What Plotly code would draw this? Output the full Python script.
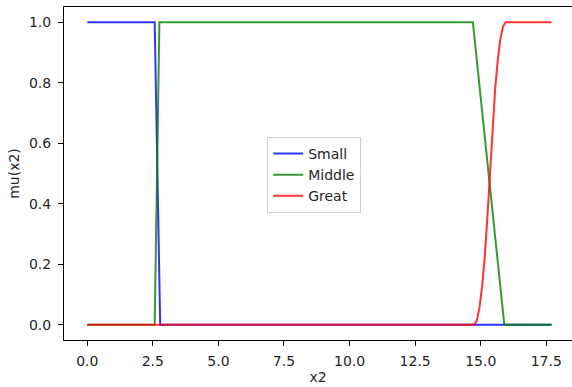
import plotly.graph_objects as go

# Data
small_x = [0.0, 2.57, 2.78, 17.7]
small_y = [1.0, 1.0, 0.0, 0.0]

middle_x = [0.0, 2.57, 2.75, 14.7, 15.9, 17.7]
middle_y = [0.0, 0.0, 1.0, 1.0, 0.0, 0.0]

great_x = [0.0, 14.75, 14.85, 14.95, 15.05, 15.15, 15.25, 15.35, 15.45, 15.55,
           15.65, 15.75, 15.85, 15.95, 17.7]
great_y = [0.0, 0.0, 0.014, 0.056, 0.125, 0.22, 0.35, 0.5, 0.65, 0.78,
           0.875, 0.945, 0.986, 1.0, 1.0]

x_ticks = [0, 2.5, 5, 7.5, 10, 12.5, 15, 17.5]
x_tick_labels = ["0.0", "2.5", "5.0", "7.5", "10.0", "12.5", "15.0", "17.5"]
y_ticks = [0, 0.2, 0.4, 0.6, 0.8, 1.0]
y_tick_labels = ["0.0", "0.2", "0.4", "0.6", "0.8", "1.0"]

font = dict(family="DejaVu Sans", size=14, color="#262626")

fig = go.Figure()
fig.add_trace(go.Scatter(x=small_x, y=small_y, mode="lines", name="Small",
                         line=dict(color="rgba(0,0,255,0.8)", width=2)))
fig.add_trace(go.Scatter(x=middle_x, y=middle_y, mode="lines", name="Middle",
                         line=dict(color="rgba(0,128,0,0.8)", width=2)))
fig.add_trace(go.Scatter(x=great_x, y=great_y, mode="lines", name="Great",
                         line=dict(color="rgba(255,0,0,0.8)", width=2)))

fig.update_layout(
    width=572, height=387,
    margin=dict(l=64, r=0, t=7, b=47, autoexpand=False),
    paper_bgcolor="white", plot_bgcolor="white",
    font=font,
    showlegend=True,
    legend=dict(x=0.40, y=0.61, xanchor="left", yanchor="top",
                bgcolor="rgba(255,255,255,0.8)", bordercolor="#d0d0d0", borderwidth=1,
                font=font, itemwidth=30, tracegroupgap=0),
    xaxis=dict(range=[-0.887, 18.48], tickvals=x_ticks, ticktext=x_tick_labels,
               showgrid=False, zeroline=False, showline=True, linecolor="black",
               linewidth=1, mirror=True, ticks="outside", ticklen=5, tickcolor="black",
               ticklabelstandoff=3,
               title=dict(text="x2", font=font, standoff=4)),
    yaxis=dict(range=[-0.05, 1.05], tickvals=y_ticks, ticktext=y_tick_labels,
               showgrid=False, zeroline=False, showline=True, linecolor="black",
               linewidth=1, ticks="outside", ticklen=5, tickcolor="black",
               ticklabelstandoff=4,
               title=dict(text="mu(x2)", font=font, standoff=6)),
)

fig.write_html("out.html", config={"displayModeBar": False},
               post_script="document.body.style.margin='0';document.body.style.padding='0';")
